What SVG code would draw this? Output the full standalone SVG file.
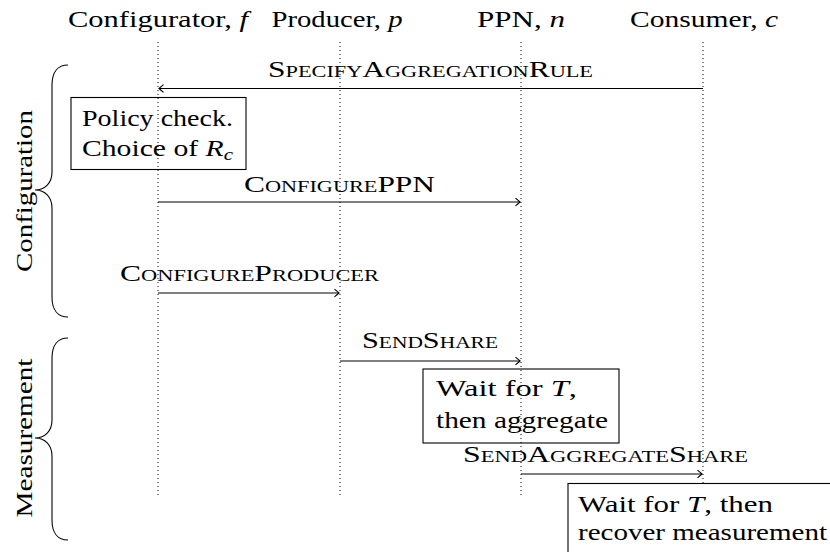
<svg xmlns="http://www.w3.org/2000/svg" width="830" height="552" viewBox="0 0 830 552" font-family="'Liberation Serif', 'Times New Roman', serif">
<style>
  text { font-family: 'Liberation Serif', 'Times New Roman', serif; font-size: 24px; fill: #000; }
  .hdr { text-anchor: middle; }
  .sc { font-variant: small-caps; text-anchor: middle; }
  .it { font-style: italic; }
  .life { stroke: #000; stroke-width: 1; stroke-dasharray: 1 3; fill: none; }
  .msg { stroke: #000; stroke-width: 1.1; fill: none; marker-end: url(#arr); }
  .box { fill: none; stroke: #000; stroke-width: 1.1; }
  .boxw { fill: #fff; stroke: #000; stroke-width: 1.1; }
  .brace { fill: none; stroke: #000; stroke-width: 1.1; }
</style>
<defs>
  <marker id="arr" markerUnits="userSpaceOnUse" markerWidth="12" markerHeight="12" viewBox="-6 -6 12 12" refX="0" refY="0" orient="auto">
    <path d="M-4.5,-3.8 Q-1.2,-1 0,0 Q-1.2,1 -4.5,3.8" fill="none" stroke="#000" stroke-width="1.1"/>
  </marker>
</defs>
<rect width="830" height="552" fill="#fff"/>

<g id="lifelines">
  <g id="configurator">
    <text class="hdr" x="158" y="27" textLength="180" lengthAdjust="spacingAndGlyphs">Configurator, <tspan class="it">f</tspan></text>
    <line class="life" x1="158" y1="42" x2="158" y2="495"/>
  </g>
  <g id="producer">
    <text class="hdr" x="337" y="27" textLength="131" lengthAdjust="spacingAndGlyphs">Producer, <tspan class="it">p</tspan></text>
    <line class="life" x1="340" y1="42" x2="340" y2="495"/>
  </g>
  <g id="ppn">
    <text class="hdr" x="521" y="27" textLength="88" lengthAdjust="spacingAndGlyphs">PPN, <tspan class="it">n</tspan></text>
    <line class="life" x1="521" y1="42" x2="521" y2="495"/>
  </g>
  <g id="consumer">
    <text class="hdr" x="704" y="27" textLength="148" lengthAdjust="spacingAndGlyphs">Consumer, <tspan class="it">c</tspan></text>
    <line class="life" x1="703" y1="42" x2="703" y2="484"/>
  </g>
</g>

<g id="connectors">
  <line class="msg" x1="703" y1="88.5" x2="159" y2="88.5"/>
  <text class="sc" x="430.5" y="77" textLength="325" lengthAdjust="spacingAndGlyphs">SpecifyAggregationRule</text>
  <line class="msg" x1="158" y1="202" x2="520" y2="202"/>
  <text class="sc" x="339.5" y="192" textLength="191" lengthAdjust="spacingAndGlyphs">ConfigurePPN</text>
  <line class="msg" x1="158" y1="293" x2="339" y2="293"/>
  <text class="sc" x="249.5" y="281" textLength="259" lengthAdjust="spacingAndGlyphs">ConfigureProducer</text>
  <line class="msg" x1="340" y1="361" x2="520" y2="361"/>
  <text class="sc" x="430" y="348" textLength="136" lengthAdjust="spacingAndGlyphs">SendShare</text>
  <line class="msg" x1="521" y1="474" x2="702" y2="474"/>
  <text class="sc" x="605.5" y="462" textLength="285" lengthAdjust="spacingAndGlyphs">SendAggregateShare</text>
</g>

<g id="policy-check">
  <rect class="box" x="71" y="97.5" width="175" height="72"/>
  <text x="82" y="126" textLength="151" lengthAdjust="spacingAndGlyphs">Policy check.</text>
  <text x="82" y="156" textLength="151" lengthAdjust="spacingAndGlyphs">Choice of <tspan class="it">R</tspan><tspan class="it" font-size="17" dy="4">c</tspan></text>
</g>

<g id="ppn-aggregate">
  <rect class="box" x="423" y="369" width="196" height="74"/>
  <text x="436" y="396" textLength="141" lengthAdjust="spacingAndGlyphs">Wait for <tspan class="it">T</tspan>,</text>
  <text x="436" y="428" textLength="172" lengthAdjust="spacingAndGlyphs">then aggregate</text>
</g>

<g id="consumer-recover">
  <rect class="boxw" x="568" y="483.5" width="280" height="80"/>
  <text x="578" y="512" textLength="195" lengthAdjust="spacingAndGlyphs">Wait for <tspan class="it">T</tspan>, then</text>
  <text x="578" y="540" textLength="249" lengthAdjust="spacingAndGlyphs">recover measurement</text>
</g>

<g id="configuration-phase">
  <path class="brace" d="M68,65 C58,65 52,72 52,85 L52,172 C52,183 45,190 35,190 C45,190 52,197 52,208 L52,297 C52,310 58,317 68,317"/>
  <text transform="translate(32,191) rotate(-90)" text-anchor="middle" textLength="162" lengthAdjust="spacingAndGlyphs">Configuration</text>
</g>

<g id="measurement-phase">
  <path class="brace" d="M68,338 C58,338 52,345 52,358 L52,420 C52,431 45,438 35,438 C45,438 52,445 52,456 L52,520 C52,533 58,540 68,540"/>
  <text transform="translate(32,438) rotate(-90)" text-anchor="middle" textLength="159" lengthAdjust="spacingAndGlyphs">Measurement</text>
</g>
</svg>
